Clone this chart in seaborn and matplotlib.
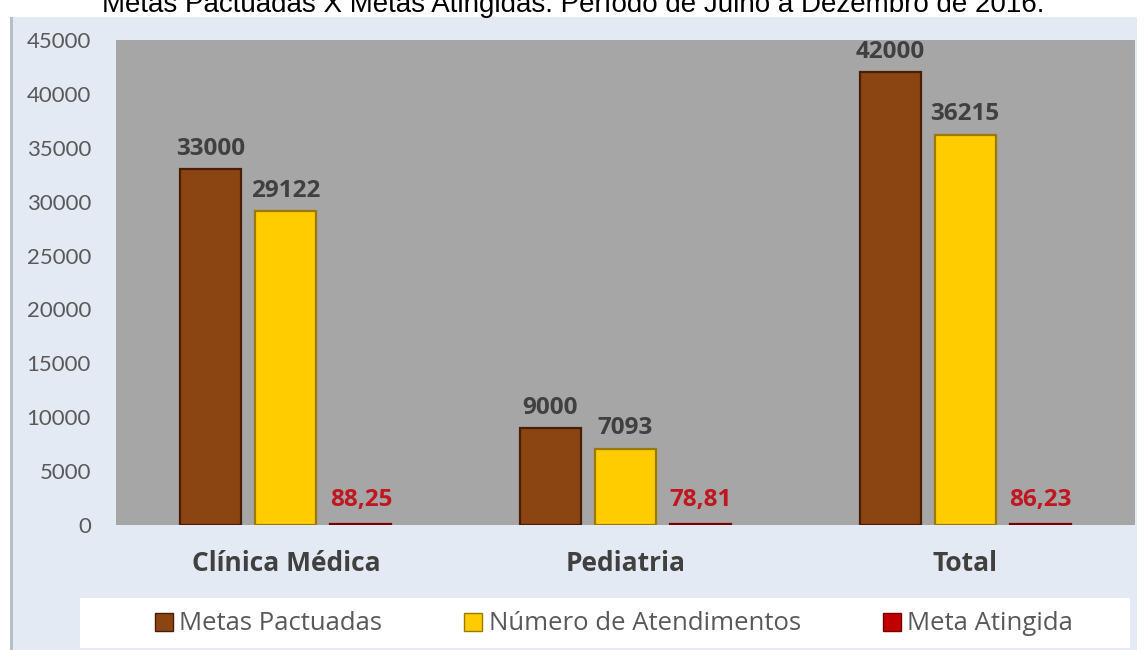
import matplotlib
matplotlib.use("Agg")
import matplotlib.pyplot as plt
import matplotlib.patches as mpatches
import seaborn as sns
import pandas as pd

categories = ["Clínica Médica", "Pediatria", "Total"]
series = ["Metas Pactuadas", "Número de Atendimentos", "Meta Atingida"]
metas_pactuadas = [33000, 9000, 42000]
numero_atendimentos = [29122, 7093, 36215]
meta_atingida = [88.25, 78.81, 86.23]
yticks = [0, 5000, 10000, 15000, 20000, 25000, 30000, 35000, 40000, 45000]
title = "Metas Pactuadas X Metas Atingidas. Período de Julho a Dezembro de 2016."

colors = ["#8B4513", "#FFCC00", "#C00000"]
edges = ["#4A1E06", "#9A7A00", "#7A0000"]
label_colors = ["#404040", "#404040", "#C0161F"]

rows = []
for s, vals in zip(series, [metas_pactuadas, numero_atendimentos, meta_atingida]):
    for c, v in zip(categories, vals):
        rows.append({"Categoria": c, "Série": s, "Valor": v})
df = pd.DataFrame(rows)

sns.set_theme(style="white")
plt.rcParams["font.family"] = ["Lato", "DejaVu Sans"]
OPEN = ["Open Sans", "DejaVu Sans"]

W, H = 1147, 650
fig = plt.figure(figsize=(W / 100, H / 100), dpi=100, facecolor="white")

# outer chart area
bg = mpatches.Rectangle((12 / W, 0), (1137 - 12) / W, 1 - 17 / H,
                        transform=fig.transFigure, facecolor="#E4EAF3",
                        edgecolor="none", zorder=-2)
fig.patches.append(bg)
border = mpatches.Rectangle((10 / W, 0), 3 / W, 1 - 17 / H,
                            transform=fig.transFigure, facecolor="#B8BEC6",
                            edgecolor="none", zorder=-1)
fig.patches.append(border)
legbox = mpatches.Rectangle((80 / W, 2 / H), (1130 - 80) / W, 50 / H,
                            transform=fig.transFigure, facecolor="white",
                            edgecolor="none", zorder=-1)
fig.patches.append(legbox)

ax = fig.add_axes([116 / W, 1 - 525 / H, (1135 - 116) / W, (525 - 40) / H])
ax.set_facecolor("#A6A6A6")

sns.barplot(data=df, x="Categoria", y="Valor", hue="Série", order=categories,
            hue_order=series, palette=colors, width=0.663, gap=0.185,
            saturation=1, ax=ax, errorbar=None)

for i, cont in enumerate(ax.containers):
    for p in cont.patches:
        p.set_edgecolor(edges[i])
        p.set_linewidth(1.6)
    vals = [metas_pactuadas, numero_atendimentos, meta_atingida][i]
    if i == 2:
        labs = [f"{v:.2f}".replace(".", ",") for v in vals]
        pad = 9
    else:
        labs = [f"{v:d}" for v in vals]
        pad = 6
    ax.bar_label(cont, labels=labs, padding=pad, fontsize=17.5,
                 fontweight="bold", color=label_colors[i], family=OPEN)

ax.set_ylim(0, 45000)
ax.set_xlim(-0.5, 2.5)
ax.set_yticks(yticks)
ax.set_yticklabels([str(t) for t in yticks])
ax.tick_params(axis="y", length=0, pad=18, labelsize=16, labelcolor="#595959")
ax.tick_params(axis="x", length=0, pad=18, labelsize=19, labelcolor="#404040")
for lab in ax.get_xticklabels():
    lab.set_fontweight("bold")
    lab.set_family(OPEN)
ax.set_xlabel("")
ax.set_ylabel("")
for sp in ax.spines.values():
    sp.set_visible(False)
ax.grid(False)

handles, labels = ax.get_legend_handles_labels()
ax.legend_.remove()
leg = fig.legend(handles, labels, ncol=3, loc="center",
                 bbox_to_anchor=(614 / W, 26 / H),
                 frameon=False, prop={"family": OPEN, "size": 18.5},
                 handlelength=0.7, handleheight=0.7,
                 handletextpad=0.25, columnspacing=3.2, borderaxespad=0)
for t in leg.get_texts():
    t.set_color("#595959")
for h, e in zip(leg.legend_handles, edges):
    h.set_edgecolor(e)

fig.text(0.5, 1 - 12 / H, title, ha="center", va="baseline",
         fontsize=20, color="#000000", family=["Liberation Sans", "DejaVu Sans"])

fig.savefig("out.png", dpi=100, facecolor="white")
